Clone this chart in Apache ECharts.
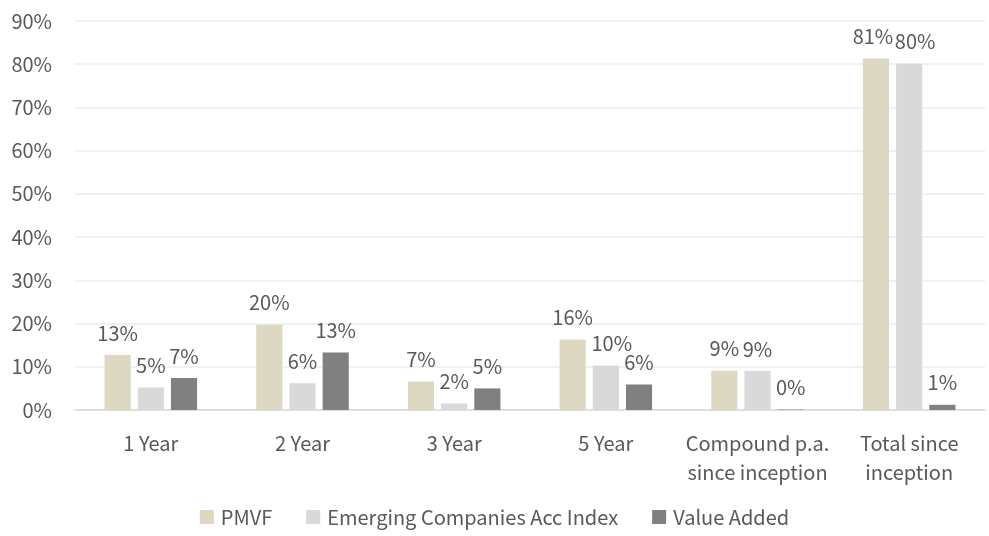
<!DOCTYPE html>
<html>
<head>
<meta charset="utf-8">
<script src="https://cdn.jsdelivr.net/npm/echarts@6/dist/echarts.min.js"></script>
<style>
  html, body { margin: 0; padding: 0; background: #fff; }
  #chart { width: 989px; height: 536px; }
</style>
</head>
<body>
<div id="chart"></div>
<script>
// categories and values (percent)
const categories = ["1 Year", "2 Year", "3 Year", "5 Year", "Compound p.a.\nsince inception", "Total since\ninception"];
const pmvf = [12.7, 19.7, 6.6, 16.3, 9.1, 81.3];
const emergingIndex = [5.2, 6.2, 1.5, 10.3, 9.0, 80.1];
const valueAdded = [7.4, 13.3, 5.0, 5.9, 0.1, 1.2];
const yTicks = [0, 10, 20, 30, 40, 50, 60, 70, 80, 90];

const textColor = "#595959";
const font = "'Noto Sans CJK SC', Lato, sans-serif";
const fs = 20;

// nudge labels sideways where they would collide (like Excel does)
function barSeries(name, data, color, nudge) {
  return {
    name: name,
    type: "bar",
    data: data.map((v, i) => nudge && nudge[i]
      ? { value: v, label: { offset: [nudge[i], 0] } }
      : v),
    barGap: "27%",
    barCategoryGap: "39%",
    itemStyle: { color: color },
    label: {
      show: true,
      position: "top",
      distance: 12,
      color: textColor,
      fontSize: fs,
      fontFamily: font,
      formatter: (p) => Math.round(p.value) + "%",
    },
  };
}

const chart = echarts.init(document.getElementById("chart"));
chart.setOption({
  animation: false,
  grid: { left: 75, right: 4, top: 21, bottom: 126 },
  legend: {
    left: "center",
    bottom: 4,
    itemWidth: 14,
    itemHeight: 14,
    itemGap: 34,
    icon: "rect",
    textStyle: { color: textColor, fontSize: fs, fontFamily: font, padding: [0, 0, 0, 2] },
  },
  xAxis: {
    type: "category",
    data: categories,
    axisTick: { show: false },
    axisLine: { lineStyle: { color: "#D9D9D9", width: 1.5 } },
    axisLabel: {
      interval: 0,
      color: textColor,
      fontSize: fs,
      fontFamily: font,
      margin: 19,
      lineHeight: 29,
    },
  },
  yAxis: {
    type: "value",
    min: yTicks[0],
    max: yTicks[yTicks.length - 1],
    interval: 10,
    axisLabel: {
      color: textColor,
      fontSize: fs,
      fontFamily: font,
      margin: 23,
      formatter: "{value}%",
    },
    splitLine: { lineStyle: { color: "#E9EEF5", width: 1.5 } },
  },
  series: [
    barSeries("PMVF", pmvf, "#DDD8C1", [0, 0, 0, 0, 0, -3]),
    barSeries("Emerging Companies Acc Index", emergingIndex, "#D9D9D9", [0, 0, 0, 6, 0, 6]),
    barSeries("Value Added", valueAdded, "#808080"),
  ],
});
</script>
</body>
</html>
